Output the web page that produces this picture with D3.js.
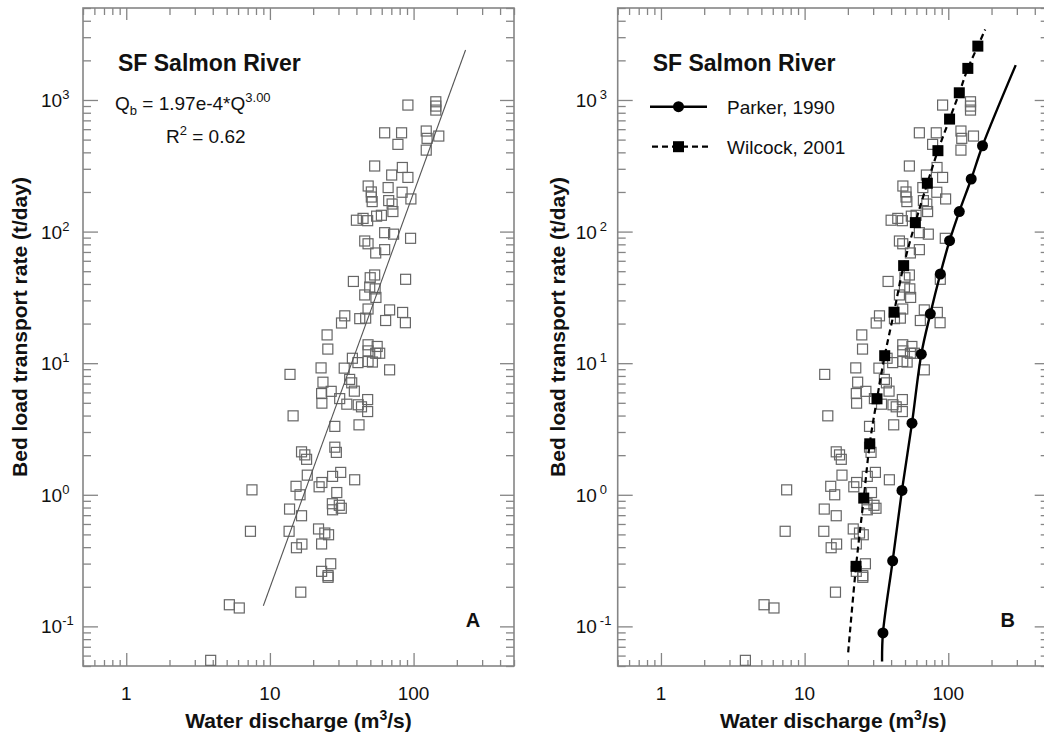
<!DOCTYPE html>
<html>
<head>
<meta charset="utf-8">
<script src="https://cdn.jsdelivr.net/npm/d3@7"></script>
<style>
  body { margin: 0; background: #fff; }
  text { font-family: "Liberation Sans", Arial, Helvetica, sans-serif; fill: #111; }
</style>
</head>
<body>
<svg id="chart" width="1044" height="738"></svg>
<script>
// Measured water discharge (m3/s) and bed load transport rate (t/day)
const dischargeQ = [
  91.3, 142.8, 142.8, 142.8, 62.9, 82.5, 77.8, 122.5, 124.1, 149.8,
  122.5, 53.6, 83.5, 70.4, 91.3, 48.3, 66.5, 50.8, 50.8, 51.5,
  83.2, 67.1, 70.9, 95.8, 71.8, 40.0, 44.5, 47.9, 55.3, 59.7,
  62.9, 72.6, 95.3, 45.7, 48.2, 54.5, 62.9, 88.0, 38.1, 49.9,
  53.6, 49.5, 54.0, 45.7, 54.7, 33.2, 31.5, 42.2, 46.4, 48.2,
  68.1, 83.9, 63.9, 87.7, 25.0, 25.3, 48.2, 48.2, 55.8, 54.5,
  58.1, 37.5, 41.0, 48.2, 51.7, 13.8, 22.7, 32.9, 68.1, 35.9,
  37.1, 23.4, 26.7, 22.9, 23.0, 30.6, 34.3, 38.7, 47.9, 41.2,
  43.4, 47.9, 14.5, 28.3, 41.7, 28.3, 29.0, 16.6, 17.5, 18.0,
  18.2, 31.1, 27.3, 38.9, 15.2, 16.2, 22.0, 23.0, 7.50, 29.2,
  27.2, 30.4, 31.4, 27.3, 13.7, 16.6, 7.32, 13.6, 21.8, 24.1,
  25.6, 16.7, 15.3, 22.9, 26.5, 22.9, 25.4, 25.4, 16.4, 5.22,
  6.12, 3.87
];
const bedloadQb = [
  915, 969, 899, 838, 563, 563, 460, 581, 511, 532,
  416, 315, 307, 269, 258, 222, 216, 200, 183, 169,
  199, 172, 162, 177, 142, 122, 126, 121, 131, 133,
  98.1, 95.6, 88.9, 84.8, 80.8, 68.8, 72.9, 43.4, 41.8, 44.6,
  46.8, 37.9, 36.7, 33.0, 31.6, 22.9, 20.2, 21.8, 22.0, 25.8,
  25.4, 24.3, 21.1, 20.3, 16.4, 12.8, 13.8, 12.4, 13.4, 11.9,
  11.9, 10.9, 10.1, 10.3, 10.2, 8.22, 9.21, 9.17, 8.90, 7.53,
  7.09, 7.17, 6.11, 5.88, 4.97, 5.38, 4.88, 6.13, 5.29, 4.83,
  4.66, 4.29, 3.98, 3.31, 3.40, 2.30, 2.10, 2.12, 2.01, 1.86,
  1.41, 1.48, 1.38, 1.30, 1.16, 1.00, 1.15, 1.24, 1.09, 1.04,
  0.855, 0.832, 0.790, 0.769, 0.779, 0.693, 0.528, 0.528, 0.550, 0.512,
  0.497, 0.422, 0.396, 0.423, 0.299, 0.262, 0.243, 0.236, 0.182, 0.146,
  0.138, 0.0552
];

// Power-law fit Qb = a * Q^b, drawn over the fitted discharge range
const fitCoef = 1.97e-4;
const fitExponent = 3.00;
const fitQRange = [9, 230];

// Parker (1990) predicted transport
const parkerQ  = [35.1, 41.0, 47.6, 55.9, 64.9, 75.0, 88.0, 102.1, 119.3, 144.4, 173.1];
const parkerQb = [0.0891, 0.315, 1.08, 3.50, 11.7, 23.7, 47.6, 85.3, 142, 251, 449];
const parkerLineStart = [34.6, 0.0542];
const parkerLineEnd   = [294.7, 1841];

// Wilcock (2001) predicted transport
const wilcockQ  = [22.8, 25.8, 28.4, 31.9, 36.1, 41.9, 48.9, 59.0, 71.5, 84.7, 102.1, 119.3, 136.8, 160.6];
const wilcockQb = [0.286, 0.944, 2.44, 5.36, 11.4, 24.4, 55.1, 117, 233, 412, 716, 1134, 1738, 2566];
const wilcockLineStart = [20.1, 0.0635];
const wilcockLineEnd   = [180.7, 3436];

// Axis ticks and labels
const xTickValues = [1, 10, 100];
const xTickLabels = ["1", "10", "100"];
const yTickValues = [0.1, 1, 10, 100, 1000];
const yTickExponents = ["-1", "0", "1", "2", "3"];

const svg = d3.select("#chart");
const axisColor = "#858585";
const plotTop = 8, plotBottom = 666, plotW = 431;

const y = d3.scaleLog().domain([0.05, 5000]).range([plotBottom, plotTop]);
const isDecade = v => Math.abs(Math.log10(v) - Math.round(Math.log10(v))) < 1e-9;

function styleAxis(g) {
  g.select(".domain").remove();
  g.selectAll(".tick line").attr("stroke", axisColor).attr("stroke-width", 1.3);
}

function drawPanel(left, letter, opts) {
  const x = d3.scaleLog().domain([0.5, 500]).range([left, left + plotW]);
  const g = svg.append("g");
  const right = left + plotW;

  const xMinor = x.ticks().filter(v => !isDecade(v));
  const xMajor = x.ticks().filter(isDecade);
  const yMinor = y.ticks().filter(v => !isDecade(v));
  const yMajor = y.ticks().filter(isDecade);

  // inward ticks on all four sides
  const axes = [
    [() => d3.axisBottom(x), `translate(0,${plotBottom})`, xMinor, xMajor, -6, -13],
    [() => d3.axisTop(x), `translate(0,${plotTop})`, xMinor, xMajor, -7, -12],
    [() => d3.axisLeft(y), `translate(${left},0)`, yMinor, yMajor, -8, -15],
    [() => d3.axisRight(y), `translate(${right},0)`, yMinor, yMajor, -8, -14]
  ];
  axes.forEach(([makeAxis, tr, minor, major, sMin, sMaj]) => {
    g.append("g").attr("transform", tr)
      .call(makeAxis().tickValues(minor).tickSize(sMin).tickSizeOuter(0).tickFormat(""))
      .call(styleAxis);
    g.append("g").attr("transform", tr)
      .call(makeAxis().tickValues(major).tickSize(sMaj).tickSizeOuter(0).tickFormat(""))
      .call(styleAxis);
  });

  g.append("rect")
    .attr("x", left).attr("y", plotTop)
    .attr("width", plotW).attr("height", plotBottom - plotTop)
    .attr("fill", "none").attr("stroke", axisColor).attr("stroke-width", 1.6);

  // tick labels
  g.selectAll(".xlab").data(xTickValues).join("text")
    .attr("x", d => x(d)).attr("y", 700)
    .attr("text-anchor", "middle").attr("font-size", 19)
    .text((d, i) => xTickLabels[i]);

  yTickValues.forEach((v, i) => {
    const t = g.append("text")
      .attr("x", left - 42).attr("y", y(v) + 7)
      .attr("font-size", 19);
    t.append("tspan").text("10");
    t.append("tspan").attr("dx", opts.expGap).attr("dy", -8).attr("font-size", 13).text(yTickExponents[i]);
  });

  // axis titles
  const xt = g.append("text")
    .attr("x", left + plotW / 2).attr("y", 728)
    .attr("text-anchor", "middle").attr("font-size", 21).attr("font-weight", "bold");
  xt.append("tspan").text("Water discharge (m");
  xt.append("tspan").attr("dy", -8).attr("font-size", 14).text("3");
  xt.append("tspan").attr("dy", 8).text("/s)");

  g.append("text")
    .attr("transform", `translate(${left - opts.yTitleOffset},327) rotate(-90)`)
    .attr("text-anchor", "middle").attr("font-size", 21).attr("font-weight", "bold")
    .text("Bed load transport rate (t/day)");

  // panel title and letter
  g.append("text")
    .attr("x", left + 35).attr("y", 71)
    .attr("font-size", 23).attr("font-weight", "bold")
    .text("SF Salmon River");
  g.append("text")
    .attr("x", left + 390).attr("y", 627)
    .attr("text-anchor", "middle").attr("font-size", 20).attr("font-weight", "bold")
    .text(letter);

  // observations
  const obs = dischargeQ.map((q, i) => [q, bedloadQb[i]]);
  g.append("g").selectAll("rect").data(obs).join("rect")
    .attr("x", d => x(d[0]) - 5).attr("y", d => y(d[1]) - 5)
    .attr("width", 10).attr("height", 10)
    .attr("fill", "none").attr("stroke", "#666").attr("stroke-width", 1.2);

  return { g, x };
}

// Panel A: observations with power-law fit
const A = drawPanel(83, "A", { expGap: 0, yTitleOffset: 56 });
const fitPts = fitQRange.map(q => [q, fitCoef * Math.pow(q, fitExponent)]);
A.g.append("path")
  .attr("d", d3.line().x(d => A.x(d[0])).y(d => y(d[1]))(fitPts))
  .attr("fill", "none").attr("stroke", "#555").attr("stroke-width", 1.1);

const eq = A.g.append("text").attr("x", 115).attr("y", 110).attr("font-size", 19);
eq.append("tspan").text("Q");
eq.append("tspan").attr("dy", 5).attr("font-size", 13).text("b");
eq.append("tspan").attr("dy", -5).text(` = ${fitCoef.toExponential(2)}*Q`);
eq.append("tspan").attr("dy", -8).attr("font-size", 13).text(fitExponent.toFixed(2));

const r2 = A.g.append("text").attr("x", 166).attr("y", 143).attr("font-size", 19);
r2.append("tspan").text("R");
r2.append("tspan").attr("dy", -8).attr("font-size", 13).text("2");
r2.append("tspan").attr("dy", 8).text(" = 0.62");

// Panel B: observations with transport model predictions
const B = drawPanel(617.7, "B", { expGap: 3, yTitleOffset: 53 });
const curve = d3.line().x(d => B.x(d[0])).y(d => y(d[1])).curve(d3.curveCatmullRom);

const parkerPts = parkerQ.map((q, i) => [q, parkerQb[i]]);
const wilcockPts = wilcockQ.map((q, i) => [q, wilcockQb[i]]);

B.g.append("path")
  .attr("d", curve([parkerLineStart, ...parkerPts, parkerLineEnd]))
  .attr("fill", "none").attr("stroke", "#000").attr("stroke-width", 2.4);
B.g.append("path")
  .attr("d", curve([wilcockLineStart, ...wilcockPts, wilcockLineEnd]))
  .attr("fill", "none").attr("stroke", "#000").attr("stroke-width", 2.2)
  .attr("stroke-dasharray", "6,4");

B.g.append("g").selectAll("circle").data(parkerPts).join("circle")
  .attr("cx", d => B.x(d[0])).attr("cy", d => y(d[1])).attr("r", 5.5).attr("fill", "#000");
B.g.append("g").selectAll("rect").data(wilcockPts).join("rect")
  .attr("x", d => B.x(d[0]) - 5.5).attr("y", d => y(d[1]) - 5.5)
  .attr("width", 11).attr("height", 11).attr("fill", "#000");

// legend
const lg = B.g.append("g");
lg.append("line").attr("x1", 650).attr("x2", 707).attr("y1", 106.7).attr("y2", 106.7)
  .attr("stroke", "#000").attr("stroke-width", 2.4);
lg.append("circle").attr("cx", 678.5).attr("cy", 106.7).attr("r", 5.5).attr("fill", "#000");
lg.append("text").attr("x", 727).attr("y", 113.5).attr("font-size", 19).text("Parker, 1990");

lg.append("line").attr("x1", 652).attr("x2", 708).attr("y1", 146.7).attr("y2", 146.7)
  .attr("stroke", "#000").attr("stroke-width", 2.2).attr("stroke-dasharray", "6,4");
lg.append("rect").attr("x", 673).attr("y", 141.2).attr("width", 11).attr("height", 11).attr("fill", "#000");
lg.append("text").attr("x", 727).attr("y", 153.5).attr("font-size", 19).text("Wilcock, 2001");
</script>
</body>
</html>
